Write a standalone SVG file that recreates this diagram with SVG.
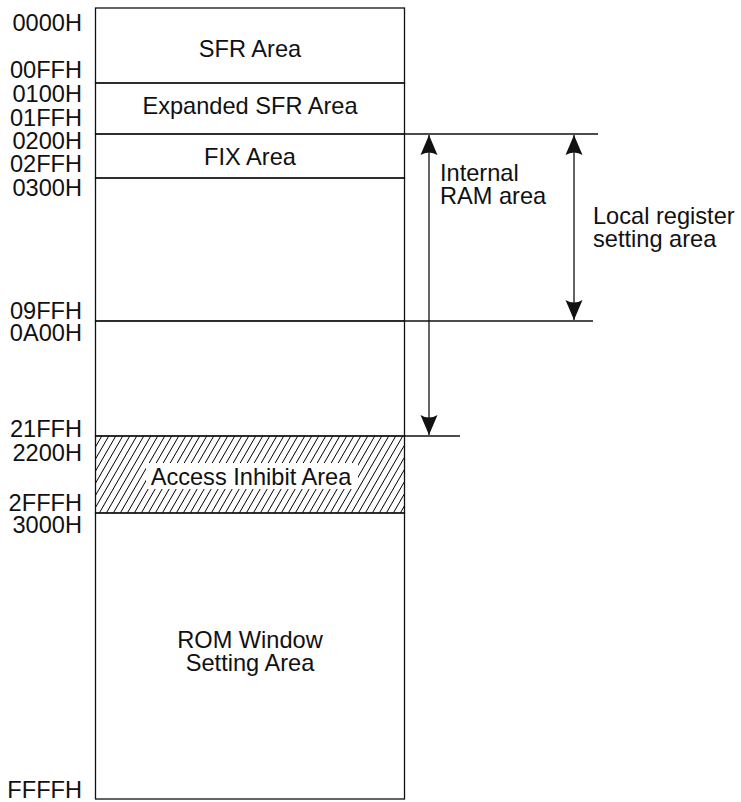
<svg xmlns="http://www.w3.org/2000/svg" width="741" height="802" viewBox="0 0 741 802">
<style>
text{font-family:"Liberation Sans",Arial,Helvetica,sans-serif;font-size:23.6px;fill:#111}
.lbl{text-anchor:end}
.c{text-anchor:middle}
.ln{stroke:#111;stroke-width:1.3;fill:none}
</style>
<defs>
<pattern id="hatch" patternUnits="userSpaceOnUse" width="7" height="7" patternTransform="skewX(-30)">
<line x1="3.5" y1="0" x2="3.5" y2="7" stroke="#000" stroke-width="1"/>
</pattern>
<marker id="ah" viewBox="-21 -10 22 20" refX="0" refY="0" markerWidth="22" markerHeight="20" markerUnits="userSpaceOnUse" orient="auto-start-reverse">
<path d="M0,0 L-20,-8.5 Q-15,0 -20,8.5 Z" fill="#111"/>
</marker>
</defs>
<rect width="741" height="802" fill="#fff"/>

<g id="sfr">
<rect class="ln" x="95.5" y="8" width="309" height="75"/>
<text class="c" x="250" y="57">SFR Area</text>
</g>
<g id="expanded-sfr">
<rect class="ln" x="95.5" y="83" width="309" height="51"/>
<text class="c" x="250" y="114">Expanded SFR Area</text>
</g>
<g id="fix">
<rect class="ln" x="95.5" y="134" width="309" height="44"/>
<text class="c" x="250" y="165">FIX Area</text>
</g>
<g id="ram-local">
<rect class="ln" x="95.5" y="178" width="309" height="143"/>
</g>
<g id="ram-rest">
<rect class="ln" x="95.5" y="321" width="309" height="115"/>
</g>
<g id="access-inhibit">
<rect x="95.5" y="436" width="309" height="77" fill="url(#hatch)"/>
<rect x="146" y="463" width="212" height="26" fill="#fff"/>
<rect class="ln" x="95.5" y="436" width="309" height="77"/>
<text class="c" x="251" y="485">Access Inhibit Area</text>
</g>
<g id="rom-window">
<rect class="ln" x="95.5" y="513" width="309" height="286"/>
<text class="c" x="250" y="648">ROM Window</text>
<text class="c" x="250" y="671">Setting Area</text>
</g>

<g id="addresses">
<text class="lbl" x="82" y="31">0000H</text>
<text class="lbl" x="82" y="78">00FFH</text>
<text class="lbl" x="82" y="102">0100H</text>
<text class="lbl" x="82" y="126">01FFH</text>
<text class="lbl" x="82" y="149">0200H</text>
<text class="lbl" x="82" y="172">02FFH</text>
<text class="lbl" x="82" y="196">0300H</text>
<text class="lbl" x="82" y="319">09FFH</text>
<text class="lbl" x="82" y="341">0A00H</text>
<text class="lbl" x="82" y="437">21FFH</text>
<text class="lbl" x="82" y="461">2200H</text>
<text class="lbl" x="82" y="511">2FFFH</text>
<text class="lbl" x="82" y="533">3000H</text>
<text class="lbl" x="82" y="798">FFFFH</text>
</g>

<g id="connectors">
<line class="ln" x1="404.5" y1="134" x2="598" y2="134"/>
<line class="ln" x1="404.5" y1="321" x2="593" y2="321"/>
<line class="ln" x1="404.5" y1="436" x2="460" y2="436"/>
<line class="ln" x1="429" y1="135" x2="429" y2="435" marker-start="url(#ah)" marker-end="url(#ah)"/>
<line class="ln" x1="574" y1="135" x2="574" y2="320" marker-start="url(#ah)" marker-end="url(#ah)"/>
</g>

<g id="internal-ram-label">
<text x="440" y="181">Internal</text>
<text x="440" y="204">RAM area</text>
</g>
<g id="local-register-label">
<text x="593" y="224">Local register</text>
<text x="593" y="247">setting area</text>
</g>
</svg>
